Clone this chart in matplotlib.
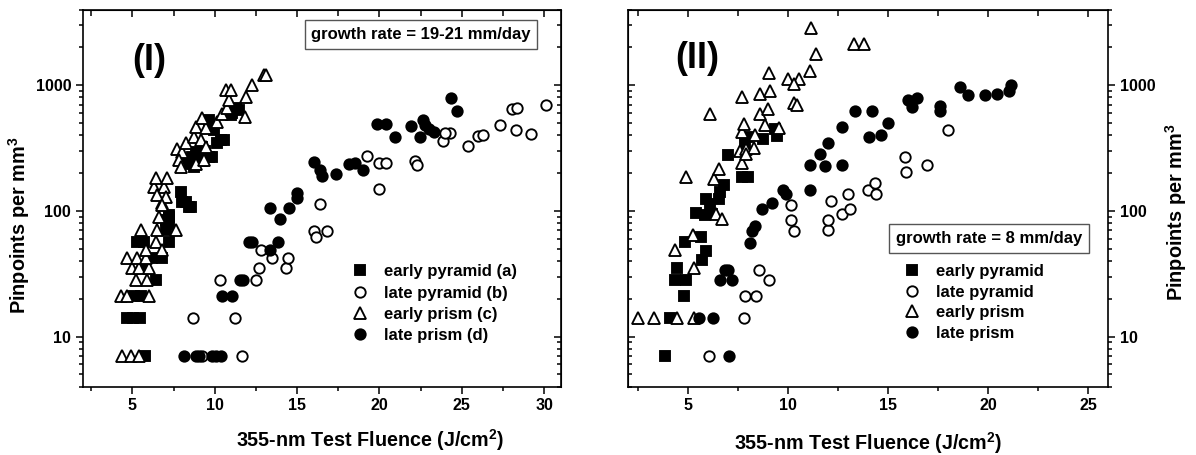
import matplotlib
matplotlib.use("Agg")
import matplotlib.pyplot as plt
from matplotlib.ticker import MultipleLocator, NullFormatter

plt.rcParams['font.family'] = ['Liberation Sans', 'DejaVu Sans']
plt.rcParams['font.weight'] = 'bold'
plt.rcParams['mathtext.fontset'] = 'custom'
plt.rcParams['mathtext.rm'] = 'Liberation Sans:bold'
plt.rcParams['mathtext.bf'] = 'Liberation Sans:bold'
plt.rcParams['mathtext.it'] = 'Liberation Sans:bold'

# ---------------- panel (I): growth rate 19-21 mm/day ----------------
I_epyr_x = [5.77, 4.65, 5.05, 5.45, 5.10, 5.50, 6.45, 5.7, 6.2, 6.8, 5.3, 5.7, 7.2,
            7.22, 7.22, 7.02, 7.02, 7.22, 8.43, 8.03, 7.93, 8.23, 8.53,
            8.33, 8.74, 8.94, 9.85, 8.84, 9.64, 8.63, 9.24, 10.15, 10.35, 10.55,
            9.95, 9.64, 11.06, 11.26, 10.96, 11.46, 9.2, 9.4]
I_epyr_y = [7, 14, 14, 14, 21, 21, 28, 35, 42, 42, 56, 56, 56,
            90, 78, 70, 85, 93, 108, 118, 142, 118, 108,
            238, 224, 286, 269, 295, 269, 269, 324, 344, 366, 366,
            439, 527, 596, 653, 577, 630, 250, 300]

I_lpyr_x = [9.24, 11.67, 8.67, 11.2, 10.31, 12.53, 12.67, 12.78, 13.48, 14.33, 14.43,
            16.01, 16.17, 16.82, 16.41, 19.95, 19.24, 20.0, 20.41, 22.17, 22.27,
            23.85, 24.29, 23.99, 25.4, 26.0, 26.27, 27.32, 28.03, 28.37, 28.29,
            29.2, 30.11]
I_lpyr_y = [7, 7, 14, 14, 28, 28, 35, 49, 42, 35, 42,
            69, 62, 69, 113, 148, 273, 241, 239, 250, 231,
            361, 413, 413, 328, 394, 400, 481, 641, 653, 439,
            408, 693]

I_epri_x = [4.35, 4.90, 5.40, 4.29, 4.70, 6.01, 5.24, 5.91, 5.0, 5.4, 6.01,
            4.70, 5.30, 5.81, 5.81, 6.41, 6.82, 5.50, 6.51, 7.62, 6.61, 6.82,
            6.31, 6.92, 6.51, 7.02, 6.82, 6.41, 7.12,
            7.73, 8.03, 8.23, 7.83, 7.93, 8.84, 9.34, 8.74, 9.14, 9.44, 8.84,
            9.44, 10.15, 9.24, 10.45, 10.76, 10.85, 11.83, 11.87, 10.66, 10.96,
            12.27, 12.98, 13.12]
I_epri_y = [7, 7, 7, 21, 21, 21, 28, 28, 35, 35, 35,
            42, 42, 42, 49, 57, 49, 70, 70, 70, 90, 115,
            156, 156, 134, 130, 111, 181, 181,
            308, 295, 344, 254, 224, 238, 254, 388, 366, 324, 467,
            453, 511, 543, 595, 653, 760, 560, 807, 922, 912,
            1000, 1200, 1200]

I_lpri_x = [8.15, 8.84, 9.04, 9.85, 10.05, 10.35, 10.45, 11.06, 11.56, 11.73,
            12.07, 12.27, 13.34, 13.83, 13.38, 13.95, 14.49, 15.0, 15.0,
            16.01, 16.41, 16.51, 17.35, 18.16, 18.53, 19.0, 19.87, 20.41, 20.96,
            21.91, 22.43, 22.63, 22.78, 22.98, 23.28, 24.33, 24.7]
I_lpri_y = [7, 7, 7, 7, 7, 7, 21, 21, 28, 28,
            56, 56, 49, 56, 105, 86, 105, 139, 126,
            246, 211, 189, 196, 238, 241, 211, 490, 490, 388,
            472, 384, 533, 481, 452, 425, 784, 625]

# ---------------- panel (II): growth rate 8 mm/day ----------------
II_epyr_x = [3.87, 4.12, 4.82, 4.37, 4.92, 4.45, 5.70, 5.92, 4.87, 5.65, 5.42, 5.87,
             6.2, 5.92, 6.53, 6.1, 6.62, 6.78, 7.7, 8.0, 6.98, 7.87, 7.95, 8.75,
             9.45, 9.37]
II_epyr_y = [7, 14, 21, 28, 28, 35, 41, 48, 56, 62, 97, 93,
             94, 124, 124, 113, 140, 161, 185, 185, 280, 341, 386, 374,
             391, 450]

II_lpyr_x = [6.03, 7.78, 7.87, 8.42, 8.53, 9.03, 10.16, 10.15, 10.28, 11.98, 11.98,
             12.15, 12.7, 13.12, 12.98, 13.98, 14.37, 14.42, 15.87, 15.92, 16.95,
             17.98]
II_lpyr_y = [7, 14, 21, 21, 34, 28, 111, 84, 69, 70, 84,
             120, 95, 104, 137, 146, 167, 135, 266, 205, 231,
             439]

II_epri_x = [2.48, 3.28, 4.45, 5.28, 5.31, 4.37, 5.25, 6.42, 6.7, 6.28, 6.53, 4.92,
             7.7, 7.62, 7.92, 7.7, 7.78, 8.37, 8.87, 8.58, 8.98, 6.12, 7.7, 8.62,
             9.12, 9.53, 9.03, 9.98, 10.53, 10.28, 10.32, 10.45, 11.12, 11.42,
             11.15, 13.32, 13.78, 8.3, 7.92]
II_epri_y = [14, 14, 14, 14, 35, 49, 64, 95, 86, 179, 215, 187,
             240, 302, 311, 424, 493, 405, 479, 586, 650, 586, 807, 847,
             902, 458, 1256, 1130, 1130, 1018, 722, 700, 1294, 1782,
             2826, 2143, 2143, 316, 282]

II_lpri_x = [7.03, 5.53, 6.25, 6.58, 7.2, 6.83, 6.98, 8.12, 8.2, 8.37, 8.7, 9.2,
             9.75, 9.92, 11.08, 11.08, 11.87, 12.7, 11.58, 11.98, 12.7, 13.37,
             14.2, 14.03, 14.65, 14.98, 16.0, 16.22, 16.45, 17.58, 17.62, 18.62,
             18.98, 19.87, 20.45, 21.03, 21.15]
II_lpri_y = [7, 14, 14, 28, 28, 34, 34, 55, 69, 76, 103, 116,
             146, 137, 146, 231, 228, 231, 282, 344, 467, 627,
             627, 384, 403, 497, 764, 675, 792, 687, 627, 975,
             842, 842, 853, 896, 1012]

I_labels = ['early pyramid (a)', 'late pyramid (b)', 'early prism (c)', 'late prism (d)']
II_labels = ['early pyramid', 'late pyramid', 'early prism', 'late prism']

xlabel = '355-nm Test Fluence (J/cm$^2$)'
ylabel = 'Pinpoints per mm$^3$'

fig = plt.figure(figsize=(11.96, 4.55), dpi=100)
ax1 = fig.add_axes([0.0694, 0.1505, 0.3994, 0.8286])
ax2 = fig.add_axes([0.5251, 0.1505, 0.4013, 0.8286])

mk = dict(linestyle='none', markeredgecolor='black', markeredgewidth=1.35)


def draw(ax, sets):
    (ax_, ay_), (bx, by), (cx, cy), (dx, dy) = sets
    h1, = ax.plot(ax_, ay_, marker='s', markersize=6.5, markerfacecolor='black', **mk)
    h2, = ax.plot(bx, by, marker='o', markersize=7.5, markerfacecolor='white', **mk)
    h3, = ax.plot(cx, cy, marker='^', markersize=8, markerfacecolor='white', **mk)
    h4, = ax.plot(dx, dy, marker='o', markersize=7.5, markerfacecolor='black', **mk)
    return [h1, h2, h3, h4]


hs1 = draw(ax1, [(I_epyr_x, I_epyr_y), (I_lpyr_x, I_lpyr_y),
                 (I_epri_x, I_epri_y), (I_lpri_x, I_lpri_y)])
hs2 = draw(ax2, [(II_epyr_x, II_epyr_y), (II_lpyr_x, II_lpyr_y),
                 (II_epri_x, II_epri_y), (II_lpri_x, II_lpri_y)])

for ax, xmax, xt in [(ax1, 31, [5, 10, 15, 20, 25, 30]), (ax2, 26, [5, 10, 15, 20, 25])]:
    ax.set_yscale('log')
    ax.set_ylim(4, 4000)
    ax.set_xlim(2, xmax)
    ax.set_xticks(xt)
    ax.xaxis.set_minor_locator(MultipleLocator(2.5))
    ax.set_yticks([10, 100, 1000])
    ax.set_yticklabels(['10', '100', '1000'])
    ax.yaxis.set_minor_formatter(NullFormatter())
    ax.tick_params(which='major', direction='out', length=5, width=1.1, labelsize=11.5)
    ax.tick_params(which='minor', direction='out', length=3, width=1.1)
    for s in ax.spines.values():
        s.set_linewidth(1.2)
    top = ax.secondary_xaxis('top')
    top.set_xticks(xt)
    top.xaxis.set_minor_locator(MultipleLocator(2.5))
    top.tick_params(which='both', direction='in', length=5, width=1.1, labeltop=False)
    top.tick_params(which='minor', length=4)

# panel I: labels on left, inward ticks on right
r1 = ax1.secondary_yaxis('right')
r1.tick_params(which='major', direction='in', length=5, width=1.1, labelright=False)
r1.tick_params(which='minor', direction='in', length=3, width=1.1)
r1.yaxis.set_minor_formatter(NullFormatter())

# panel II: labels on right, inward ticks on left
ax2.yaxis.tick_right()
ax2.tick_params(axis='y', which='both', left=False)
l2 = ax2.secondary_yaxis('left')
l2.tick_params(which='major', direction='in', length=5, width=1.1, labelleft=False)
l2.tick_params(which='minor', direction='in', length=3, width=1.1)
l2.yaxis.set_minor_formatter(NullFormatter())

ax1.set_xlabel(xlabel, fontsize=14.2, fontweight='bold')
ax1.xaxis.set_label_coords(0.602, -0.108)
ax1.set_ylabel(ylabel, fontsize=14.3, fontweight='bold')
ax1.yaxis.set_label_coords(-0.107, 0.427)

ax2.set_xlabel(xlabel, fontsize=14.2, fontweight='bold')
ax2.xaxis.set_label_coords(0.5, -0.115)
ax2.yaxis.set_label_position('right')
ax2.set_ylabel(ylabel, fontsize=14.3, fontweight='bold', rotation=90)
ax2.yaxis.set_label_coords(1.115, 0.462)

ax1.text(0.138, 0.866, '(I)', transform=ax1.transAxes, fontsize=26,
         fontweight='bold', ha='center', va='center')
ax2.text(0.144, 0.871, '(II)', transform=ax2.transAxes, fontsize=26,
         fontweight='bold', ha='center', va='center')

box = dict(boxstyle='square,pad=0.4', facecolor='white', edgecolor='#555555', linewidth=1)
ax1.text(0.7076, 0.9337, 'growth rate = 19-21 mm/day', transform=ax1.transAxes,
         fontsize=12, fontweight='bold', ha='center', va='center', bbox=box)
ax2.text(0.7517, 0.3928, 'growth rate = 8 mm/day', transform=ax2.transAxes,
         fontsize=12, fontweight='bold', ha='center', va='center', bbox=box)

ax1.legend(hs1, I_labels, loc='upper left', bbox_to_anchor=(0.54, 0.342), frameon=False,
           fontsize=12, labelspacing=0.38, handletextpad=0.7, handlelength=1.5,
           borderaxespad=0)
ax2.legend(hs2, II_labels, loc='upper left', bbox_to_anchor=(0.551, 0.343), frameon=False,
           fontsize=12, labelspacing=0.34, handletextpad=0.7, handlelength=1.5,
           borderaxespad=0)

fig.savefig('out.png', dpi=100)
